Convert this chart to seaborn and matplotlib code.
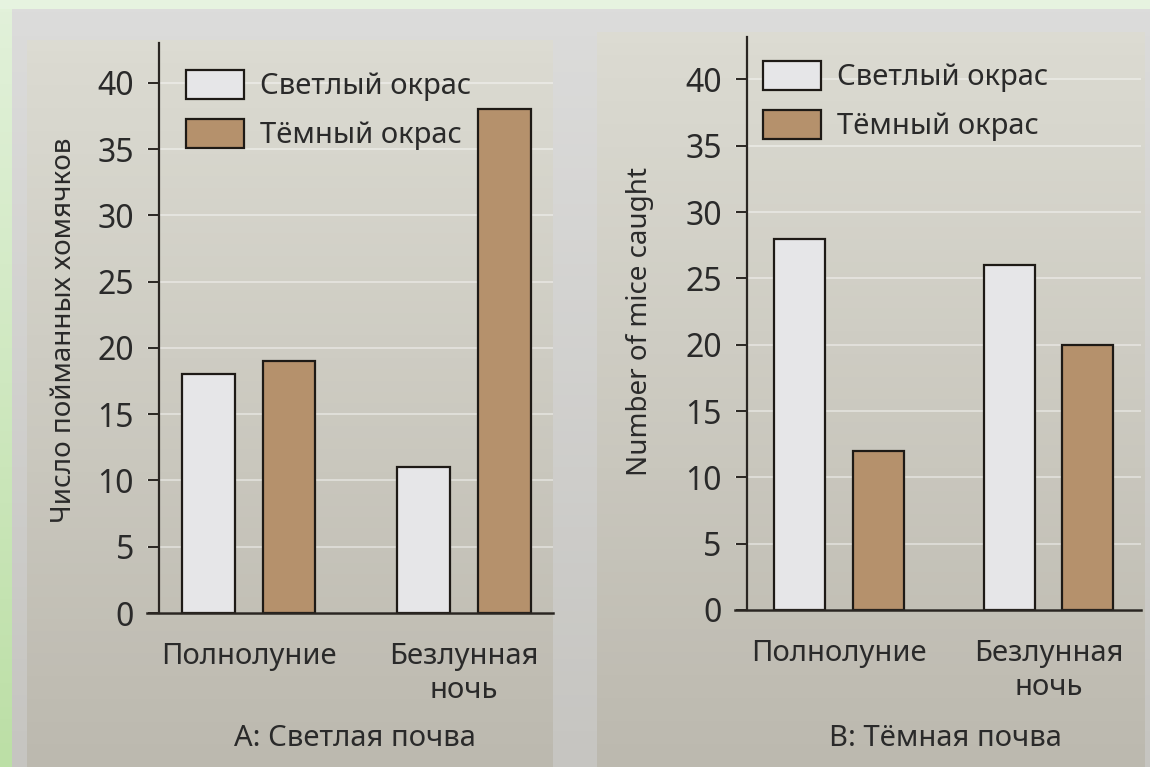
import numpy as np
import pandas as pd
import matplotlib.pyplot as plt
import seaborn as sns
from matplotlib.patches import Rectangle

# ===== данные =====
conditions = ['Полнолуние', 'Безлунная\nночь']
morphs = ['Светлый окрас', 'Тёмный окрас']
light_A = [18, 11]
dark_A = [19, 38]
light_B = [28, 26]
dark_B = [12, 20]
yticks = [0, 5, 10, 15, 20, 25, 30, 35, 40]

# ===== стиль =====
sns.set_style('ticks')
plt.rcParams['font.family'] = ['Noto Sans', 'DejaVu Sans']
C_LIGHT = '#e6e6e8'
C_DARK = '#b5916c'
C_TEXT = '#2a2a2a'
C_PANEL_TOP = '#dcdbd2'
C_PANEL_BOT = '#bcb9af'
C_PAGE_TOP = '#dcdcdb'
C_PAGE_BOT = '#c6c5c1'

W, H = 1150, 767
fig = plt.figure(figsize=(W / 100, H / 100), dpi=100)


def box(x0, y0, x1, y1):
    return [x0 / W, 1 - y1 / H, (x1 - x0) / W, (y1 - y0) / H]


def grad(c_top, c_bot, n=64):
    a = np.array(plt.matplotlib.colors.to_rgb(c_top))
    b = np.array(plt.matplotlib.colors.to_rgb(c_bot))
    t = np.linspace(0, 1, n)[:, None]
    return (a * (1 - t) + b * t)[:, None, :]


# фон: страница, зелёная рамка, две серые панели
bg = fig.add_axes([0, 0, 1, 1], zorder=-10)
bg.axis('off')
bg.imshow(grad(C_PAGE_TOP, C_PAGE_BOT), extent=(0, W, H, 0), aspect='auto')
bg.imshow(grad(C_PANEL_TOP, C_PANEL_BOT), extent=(27, 553, H, 40), aspect='auto')
bg.imshow(grad(C_PANEL_TOP, C_PANEL_BOT), extent=(597, 1145, H, 32), aspect='auto')
bg.add_patch(Rectangle((0, 0), W, 9, color='#e6f3e0', lw=0))
bg.imshow(grad('#e2f1da', '#bcdfa6'), extent=(0, 12, H, 0), aspect='auto')
bg.set_xlim(0, W)
bg.set_ylim(H, 0)

panels = [
    dict(light=light_A, dark=dark_A, rect=(147, 43, 553, 613), xlim=(-0.474, 1.414),
         spine=-0.419, ylim=43.0, ylabel='Число пойманных хомячков', ylab_x=64, ylab_y=330,
         xlabel='А: Светлая почва', xlab_x=355, leg=(186, 70)),
    dict(light=light_B, dark=dark_B, rect=(735, 37, 1141, 610), xlim=(-0.496, 1.441),
         spine=-0.44, ylim=43.2, ylabel='Number of mice caught', ylab_x=640, ylab_y=322,
         xlabel='В: Тёмная почва', xlab_x=945, leg=(763, 61)),
]

for p in panels:
    df = pd.DataFrame({
        'условие': conditions * 2,
        'окрас': [morphs[0]] * 2 + [morphs[1]] * 2,
        'число': list(p['light']) + list(p['dark']),
    })
    ax = fig.add_axes(box(*p['rect']))
    ax.set_facecolor('none')
    sns.barplot(data=df, x='условие', y='число', hue='окрас', order=conditions,
                hue_order=morphs, palette=[C_LIGHT, C_DARK], width=0.75, gap=0.35,
                edgecolor='#1e1a16', linewidth=1.6, saturation=1, ax=ax)

    ax.set_xlim(*p['xlim'])
    ax.set_ylim(0, p['ylim'])
    ax.set_yticks(yticks)
    ax.set_axisbelow(True)
    ax.yaxis.grid(True, color='white', alpha=0.4, lw=1.4)

    for s in ['top', 'right']:
        ax.spines[s].set_visible(False)
    ax.spines['left'].set_position(('data', p['spine']))
    ax.spines['left'].set_linewidth(1.6)
    ax.spines['bottom'].set_linewidth(1.8)
    ax.spines['left'].set_color('#2a2622')
    ax.spines['bottom'].set_color('#2a2622')

    ax.tick_params(axis='y', length=8, width=1.4, pad=10, labelsize=23,
                   colors='#2a2622', labelcolor=C_TEXT)
    ax.tick_params(axis='x', length=0, pad=21, labelsize=21, labelcolor=C_TEXT)

    ax.set_ylabel(p['ylabel'], fontsize=20, color=C_TEXT, va='center')
    ax.yaxis.set_label_coords(p['ylab_x'] / W, 1 - p['ylab_y'] / H, transform=fig.transFigure)
    ax.set_xlabel(p['xlabel'], fontsize=21, color=C_TEXT, va='baseline')
    ax.xaxis.set_label_coords(p['xlab_x'] / W, 1 - 746 / H, transform=fig.transFigure)

    ax.legend(loc='upper left', bbox_to_anchor=(p['leg'][0] / W, 1 - p['leg'][1] / H),
              bbox_transform=fig.transFigure, frameon=False, fontsize=21,
              handlelength=2.0, handleheight=1.15, handletextpad=0.55,
              labelspacing=0.6, borderpad=0, borderaxespad=0, labelcolor=C_TEXT)

fig.savefig('out.png', dpi=100)
